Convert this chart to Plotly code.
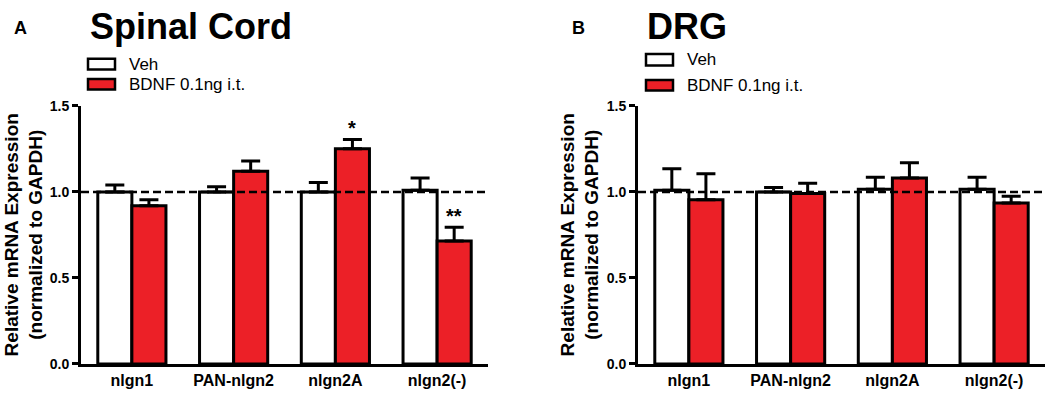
import plotly.graph_objects as go

categories = ["nlgn1", "PAN-nlgn2", "nlgn2A", "nlgn2(-)"]

# Spinal Cord
sc_veh = [1.00, 1.00, 1.00, 1.01]
sc_veh_err = [0.04, 0.03, 0.055, 0.07]
sc_bdnf = [0.92, 1.12, 1.25, 0.715]
sc_bdnf_err = [0.035, 0.06, 0.055, 0.08]
sc_sig = ["", "", "*", "**"]

# DRG
drg_veh = [1.01, 1.00, 1.015, 1.015]
drg_veh_err = [0.125, 0.025, 0.07, 0.07]
drg_bdnf = [0.955, 0.99, 1.08, 0.935]
drg_bdnf_err = [0.15, 0.06, 0.09, 0.04]
drg_sig = ["", "", "", ""]

y_ticks = [0.0, 0.5, 1.0, 1.5]
y_ticktext = ["0.0", "0.5", "1.0", "1.5"]
series_names = ["Veh", "BDNF 0.1ng i.t."]
panel_titles = ["Spinal Cord", "DRG"]
panel_letters = ["A", "B"]

RED = "#EC2027"
FONT = "Liberation Sans"
W, H = 1050, 394

fig = go.Figure()

panels = [
    (sc_veh, sc_veh_err, sc_bdnf, sc_bdnf_err, sc_sig, "x", "y"),
    (drg_veh, drg_veh_err, drg_bdnf, drg_bdnf_err, drg_sig, "x2", "y2"),
]

for veh, veh_err, bdnf, bdnf_err, sig, xa, ya in panels:
    for vals, errs, color, name in [(veh, veh_err, "white", series_names[0]),
                                    (bdnf, bdnf_err, RED, series_names[1])]:
        fig.add_trace(go.Bar(
            x=categories, y=vals, name=name, xaxis=xa, yaxis=ya,
            marker=dict(color=color, line=dict(color="black", width=3)),
            error_y=dict(type="data", array=errs, arrayminus=[0] * len(errs),
                         symmetric=False, color="black", thickness=3, width=9.5),
            showlegend=False, offsetgroup=name,
        ))
    for cat, v, e, s in zip(categories, bdnf, bdnf_err, sig):
        if s:
            fig.add_annotation(x=cat, y=v + e, xref=xa, yref=ya, text="<b>%s</b>" % s,
                               showarrow=False, xshift=17, yshift=11,
                               yanchor="middle", xanchor="center",
                               font=dict(family=FONT, size=20, color="black"))
    fig.add_shape(type="line", xref=xa + " domain", yref=ya, x0=0, x1=0.993, y0=1, y1=1,
                  line=dict(color="black", width=2.5, dash="8px,4px"), layer="above")

y_dom = [1 - 371 / H, 1 - 102 / H]
x_doms = [[81 / W, 488 / W], [638 / W, 1045 / W]]

axis_common_x = dict(showline=True, linewidth=3, linecolor="black", ticks="",
                     showgrid=False, zeroline=False, range=[-0.5, 3.5],
                     tickfont=dict(family=FONT, size=16, color="black", weight="bold"))
axis_common_y = dict(showline=True, linewidth=3, linecolor="black", ticks="outside",
                     ticklen=6, tickwidth=2.5, tickcolor="black",
                     showgrid=False, zeroline=False, range=[0, 1.5],
                     tickvals=y_ticks, ticktext=y_ticktext,
                     tickfont=dict(family=FONT, size=14, color="black", weight="bold"))

fig.update_layout(
    width=W, height=H, margin=dict(l=0, r=0, t=0, b=0),
    plot_bgcolor="white", paper_bgcolor="white",
    barmode="group", bargap=0.33, bargroupgap=0,
    xaxis=dict(domain=x_doms[0], anchor="y", **axis_common_x),
    yaxis=dict(domain=y_dom, anchor="x", **axis_common_y),
    xaxis2=dict(domain=x_doms[1], anchor="y2", **axis_common_x),
    yaxis2=dict(domain=y_dom, anchor="x2", **axis_common_y),
)

# Titles, letters, y-axis titles, legends
layout_bits = [
    # (letter_x, title_x, ytitle_x, legend_box_x0, legend_veh_y, legend_bdnf_y)
    (12, 88, 24, 88, (53, 64), (74, 85)),
    (570, 645, 580, 646, (48, 60), (75, 86)),
]
for i, (lx, tx, yx, bx, vy, by) in enumerate(layout_bits):
    fig.add_annotation(x=lx / W, y=1 - 21 / H, xref="paper", yref="paper",
                       text="<b>%s</b>" % panel_letters[i], showarrow=False,
                       xanchor="left", yanchor="middle",
                       font=dict(family=FONT, size=18, color="black"))
    fig.add_annotation(x=tx / W, y=1 - 19 / H, xref="paper", yref="paper",
                       text="<b>%s</b>" % panel_titles[i], showarrow=False,
                       xanchor="left", yanchor="middle",
                       font=dict(family=FONT, size=36, color="black"))
    fig.add_annotation(x=yx / W, y=1 - 237 / H, xref="paper", yref="paper",
                       text="<b>Relative mRNA Expression</b><br><b>(normalized to GAPDH)</b>",
                       showarrow=False, textangle=-90, xanchor="center", yanchor="middle",
                       font=dict(family=FONT, size=19, color="black"))
    for (y0, y1), fill, name in [(vy, "white", series_names[0]), (by, RED, series_names[1])]:
        fig.add_shape(type="rect", xref="paper", yref="paper",
                      x0=bx / W, x1=(bx + 27) / W, y0=1 - y1 / H, y1=1 - y0 / H,
                      fillcolor=fill, line=dict(color="black", width=2.5))
        fig.add_annotation(x=(bx + 39) / W, y=1 - ((y0 + y1) / 2) / H, xref="paper", yref="paper",
                           text=name, showarrow=False, xanchor="left", yanchor="middle",
                           font=dict(family=FONT, size=17, color="black"))

fig.write_html("out.html", config={"displayModeBar": False},
               post_script="document.body.style.margin='0';")
